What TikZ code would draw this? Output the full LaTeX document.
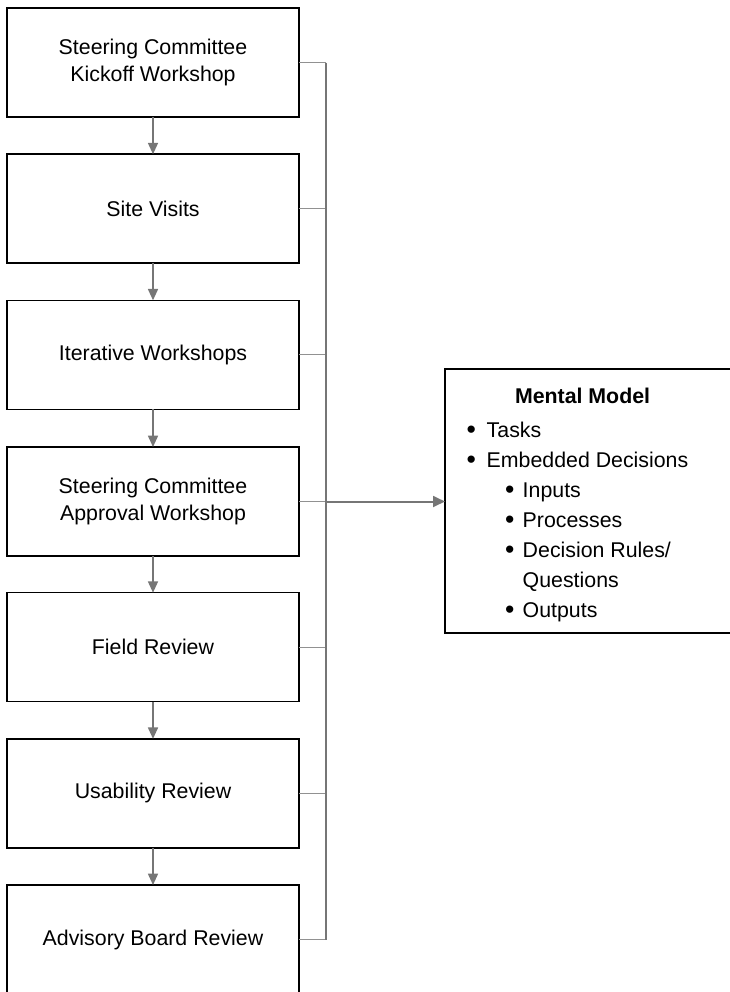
\documentclass[tikz,border=0pt]{standalone}
\usepackage{fontspec}
\setmainfont{Liberation Sans}
\usetikzlibrary{arrows.meta}

\definecolor{trunkgray}{RGB}{118,118,118}
\definecolor{branchgray}{RGB}{145,145,145}

% a slightly heavier bullet for the model list
\newcommand{\mmdot}{\raisebox{-1.2pt}{\fontsize{20}{22.5}\selectfont\textbullet}}
% one bullet line of the model box: bullet offset, text offset, text
\newcommand{\mmitem}[3]{\makebox[0pt][l]{\hspace*{#1}\mmdot}\hspace*{#2}#3\par}

\tikzset{
  stagebox/.style={draw=black, line width=1.1pt, minimum width=219pt,
    minimum height=81.75pt, inner sep=0pt, outer sep=0pt, align=center,
    font=\fontsize{16}{20}\selectfont},
  modelbox/.style={draw=black, line width=1.1pt, inner sep=0pt, outer sep=0pt,
    anchor=north west},
  flow/.style={draw=trunkgray, line width=1.2pt,
    -{Triangle[length=8.5pt,width=7.5pt]}},
  feed/.style={draw=trunkgray, line width=1.5pt,
    -{Triangle[length=9pt,width=8.2pt]}},
  trunk/.style={draw=trunkgray, line width=1.2pt},
  branch/.style={draw=branchgray, line width=0.9pt},
}

\begin{document}
\begin{tikzpicture}[x=0.75pt, y=-0.75pt]
  \useasboundingbox (0,0) rectangle (730,992);
  \clip (0,0) rectangle (730,992);

  % process stages
  \node[stagebox] (b1) at (153,62.5)  {Steering Committee\\Kickoff Workshop};
  \node[stagebox] (b2) at (153,208.7) {Site Visits};
  \node[stagebox] (b3) at (153,354.8) {Iterative Workshops};
  \node[stagebox] (b4) at (153,501.5) {Steering Committee\\Approval Workshop};
  \node[stagebox] (b5) at (153,647.2) {Field Review};
  \node[stagebox] (b6) at (153,793.3) {Usability Review};
  \node[stagebox] (b7) at (153,939.5) {Advisory Board Review};

  % model box
  \node[modelbox] (mm) at (445,369) {%
    \begin{minipage}[t][198pt][t]{225pt}
      \fontsize{16}{22.5}\selectfont\parindent=0pt\parskip=0pt
      \rule{0pt}{25.5pt}\hspace*{52.5pt}\textbf{Mental Model}\par
      \vspace{3pt}
      \mmitem{16.2pt}{31.3pt}{Tasks}
      \mmitem{16.2pt}{31.3pt}{Embedded Decisions}
      \mmitem{45.0pt}{58.3pt}{Inputs}
      \mmitem{45.0pt}{58.3pt}{Processes}
      \mmitem{45.0pt}{58.3pt}{Decision Rules/}
      \hspace*{58.3pt}Questions\par
      \mmitem{45.0pt}{58.3pt}{Outputs}
    \end{minipage}};

  % sequence arrows
  \draw[flow] (b1) -- (b2);
  \draw[flow] (b2) -- (b3);
  \draw[flow] (b3) -- (b4);
  \draw[flow] (b4) -- (b5);
  \draw[flow] (b5) -- (b6);
  \draw[flow] (b6) -- (b7);

  % collecting bus
  \coordinate (bus) at (326,0);
  \foreach \b in {b1,b2,b3,b4,b5,b6,b7}
    \draw[branch] (\b.east) -- (\b.east -| bus);
  \draw[trunk] (b1.east -| bus) -- (b7.east -| bus);

  % feed into the model
  \draw[feed] (b4.east -| bus) -- (b4.east -| mm.west);
\end{tikzpicture}
\end{document}
